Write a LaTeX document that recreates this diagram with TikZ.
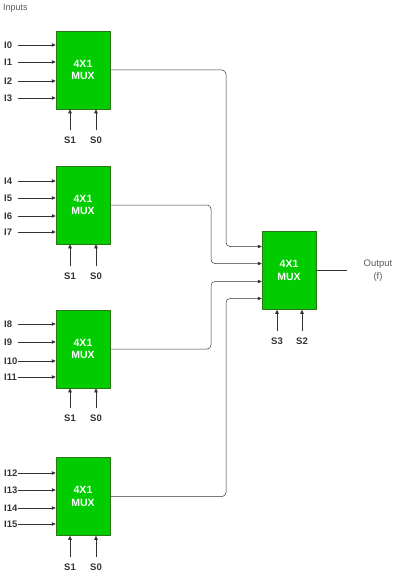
\documentclass[tikz,border=0pt]{standalone}
\usepackage{fontspec}
\setmainfont{Liberation Sans}
\usetikzlibrary{arrows.meta,calc}
\definecolor{muxgreen}{RGB}{0,204,0}
\definecolor{muxedge}{RGB}{40,120,20}
\definecolor{wire}{RGB}{50,50,50}
\definecolor{graytxt}{RGB}{90,90,90}
\tikzset{
  muxbox/.style={draw=muxedge, line width=0.5pt, fill=muxgreen, minimum width=54pt, minimum height=78pt, inner sep=0pt,
    font=\fontsize{10.5}{12.5}\selectfont\bfseries, text=white, align=center},
  inlabel/.style={anchor=west, inner sep=0pt, font=\fontsize{9.5}{10}\selectfont\bfseries, text=black!80},
  sellabel/.style={inner sep=0pt, font=\fontsize{9.5}{10}\selectfont\bfseries, text=black!80},
  arr/.style={draw=wire, line width=0.6pt, -{Triangle[length=4pt,width=3.5pt]}},
  wireline/.style={draw=wire, line width=0.5pt, rounded corners=4pt},
}
\begin{document}
\begin{tikzpicture}[x=1pt,y=-1pt]
\useasboundingbox (0,0) rectangle (400,578);
\node[anchor=west, inner sep=0pt, font=\fontsize{9}{10}\selectfont, text=graytxt] (inp) at (3,8) {Inputs};
% four first-stage muxes
\node[muxbox] (m1) at (83,70) {4X1\\MUX};
\node[muxbox] (m2) at (83,205) {4X1\\MUX};
\node[muxbox] (m3) at (83,349) {4X1\\MUX};
\node[muxbox] (m4) at (83,496.5) {4X1\\MUX};
\node[muxbox] (mf) at (289,270.5) {4X1\\MUX};
% inputs
\foreach \n/\y/\m in {0/45/m1,1/62/m1,2/81/m1,3/98/m1,
                      4/181/m2,5/198/m2,6/216/m2,7/232/m2,
                      8/324/m3,9/342/m3,10/361/m3,11/377/m3,
                      12/473/m4,13/490/m4,14/508/m4,15/524/m4}{
  \node[inlabel] (I\n) at (4,\y) {I\n};
  \coordinate (Is\n) at (17.5,\y);
  \draw[arr] (Is\n) -- (Is\n -| \m.west);
}
% selects
\foreach \m/\y in {m1/140,m2/276,m3/418,m4/567}{
  \node[sellabel] (\m s1) at (70,\y) {S1};
  \node[sellabel] (\m s0) at (96,\y) {S0};
  \draw[arr] ([yshift=6pt]\m s1.north) -- (\m s1.north |- \m.south);
  \draw[arr] ([yshift=6pt]\m s0.north) -- (\m s0.north |- \m.south);
}
\node[sellabel] (fs3) at (277,341) {S3};
\node[sellabel] (fs2) at (302,341) {S2};
\draw[arr] ([yshift=6pt]fs3.north) -- (fs3.north |- mf.south);
\draw[arr] ([yshift=6pt]fs2.north) -- (fs2.north |- mf.south);
% connections to final mux
\coordinate (f1) at (262,246.5);
\coordinate (f2) at (262,263.5);
\coordinate (f3) at (262,281.5);
\coordinate (f4) at (262,298.5);
\draw[wireline, -{Triangle[length=4pt,width=3.5pt]}] (m1.east) -- (226,70) -- (226,246.5) -- (f1 -| mf.west);
\draw[wireline, -{Triangle[length=4pt,width=3.5pt]}] (m2.east) -- (211,205) -- (211,263.5) -- (f2 -| mf.west);
\draw[wireline, -{Triangle[length=4pt,width=3.5pt]}] (m3.east) -- (211,349) -- (211,281.5) -- (f3 -| mf.west);
\draw[wireline, -{Triangle[length=4pt,width=3.5pt]}] (m4.east) -- (226,496.5) -- (226,298.5) -- (f4 -| mf.west);
% output
\coordinate (oend) at (347,270.5);
\draw[draw=wire, line width=0.5pt] (mf.east) -- (oend);
\node[align=center, inner sep=0pt, font=\fontsize{9.5}{13}\selectfont, text=graytxt] (out) at (378,271) {Output\\(f)};
\end{tikzpicture}
\end{document}
